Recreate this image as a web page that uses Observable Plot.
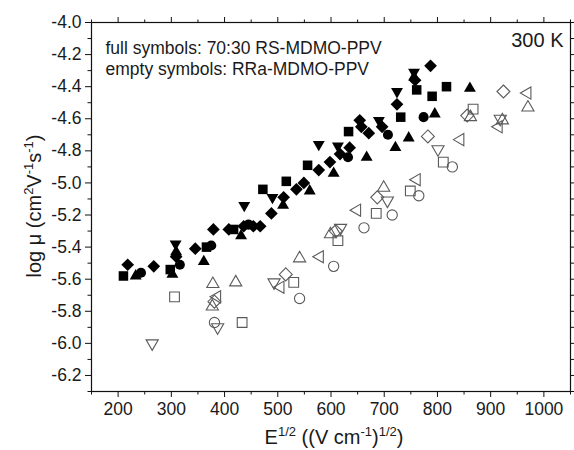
<!DOCTYPE html>
<html><head><meta charset="utf-8">
<script src="https://cdn.jsdelivr.net/npm/d3@7"></script>
<script src="https://cdn.jsdelivr.net/npm/@observablehq/plot@0.6"></script>
<style>html,body{margin:0;padding:0;background:#fff;overflow:hidden}</style>
</head><body><div id="chart"></div>
<script>
// ---- tick values ----
const xMajorTicks = [200, 300, 400, 500, 600, 700, 800, 900, 1000];
const xMinorTicks = [150, 250, 350, 450, 550, 650, 750, 850, 950, 1050];
const yMajorTicks = [-6.2, -6.0, -5.8, -5.6, -5.4, -5.2, -5.0, -4.8, -4.6, -4.4, -4.2, -4.0];
const yMinorTicks = [-6.3, -6.1, -5.9, -5.7, -5.5, -5.3, -5.1, -4.9, -4.7, -4.5, -4.3, -4.1];

// ---- texts ----
const noteFull = "full symbols: 70:30 RS-MDMO-PPV";
const noteEmpty = "empty symbols: RRa-MDMO-PPV";
const tempLabel = "300 K";

// ---- data: [E^1/2, log mu] ----
// full symbols (70:30 RS-MDMO-PPV)
const fullSquare = [[210,-5.58],[298,-5.54],[366,-5.40],[417,-5.29],[472,-5.04],[516,-4.99],[556,-4.89],[633,-4.68],[731,-4.59],[761,-4.42],[790,-4.46],[817,-4.40]];
const fullCircle = [[243,-5.56],[316,-5.51],[375,-5.39],[445,-5.26],[632,-4.84],[707,-4.70],[774,-4.59]];
const fullTriUp = [[233,-5.58],[302,-5.57],[309,-5.43],[361,-5.49],[431,-5.33],[510,-5.14],[560,-5.05],[605,-4.94],[667,-4.84],[721,-4.78],[746,-4.72],[795,-4.57],[861,-4.41],[756,-4.34]];
const fullTriDown = [[308,-5.38],[437,-5.14],[490,-5.09],[577,-4.76],[613,-4.77],[690,-4.61],[724,-4.43],[756,-4.31]];
const fullDiamond = [[218,-5.51],[267,-5.52],[309,-5.46],[345,-5.41],[379,-5.29],[408,-5.29],[436,-5.27],[454,-5.27],[467,-5.27],[488,-5.19],[511,-5.09],[535,-5.04],[549,-5.00],[577,-4.92],[598,-4.87],[617,-4.82],[635,-4.78],[654,-4.61],[657,-4.65],[671,-4.69],[696,-4.65],[724,-4.51],[758,-4.36],[787,-4.27]];
// empty symbols (RRa-MDMO-PPV)
const emptySquare = [[306,-5.71],[433,-5.87],[530,-5.62],[613,-5.36],[685,-5.19],[749,-5.05],[811,-4.87],[867,-4.54]];
const emptyCircle = [[381,-5.87],[541,-5.72],[605,-5.52],[662,-5.28],[715,-5.20],[765,-5.08],[828,-4.90]];
const emptyTriUp = [[378,-5.63],[377,-5.77],[421,-5.62],[541,-5.47],[599,-5.32],[699,-5.03],[862,-4.59],[922,-4.61],[970,-4.53]];
const emptyTriDown = [[264,-6.00],[387,-5.90],[493,-5.62],[618,-5.28],[706,-5.11],[801,-4.79],[918,-4.60]];
const emptyDiamond = [[381,-5.74],[515,-5.57],[609,-5.30],[687,-5.09],[782,-4.71],[856,-4.58],[924,-4.43]];
const emptyTriLeft = [[386,-5.71],[505,-5.65],[579,-5.46],[649,-5.17],[761,-4.98],[843,-4.73],[915,-4.65],[969,-4.44]];

// ---- symbols ----
const mk = fn => ({draw(ctx, size) { const r = Math.sqrt(size / Math.PI); fn(ctx, r); }});
const poly = (ctx, pts) => { ctx.moveTo(pts[0][0], pts[0][1]); for (let i = 1; i < pts.length; i++) ctx.lineTo(pts[i][0], pts[i][1]); ctx.closePath(); };
const symSquare = mk((c, r) => { const h = 0.9 * r; poly(c, [[-h,-h],[h,-h],[h,h],[-h,h]]); });
const symCircle = mk((c, r) => { const q = 0.95 * r; c.moveTo(q, 0); c.arc(0, 0, q, 0, 2 * Math.PI); });
const symDiamond = mk((c, r) => { const h = 1.2 * r; poly(c, [[0,-h],[h,0],[0,h],[-h,0]]); });
const symTriUp = mk((c, r) => { const R = 1.3 * r; poly(c, [[0,-R],[0.866*R,R/2],[-0.866*R,R/2]]); });
const symTriDown = mk((c, r) => { const R = 1.3 * r; poly(c, [[0,R],[0.866*R,-R/2],[-0.866*R,-R/2]]); });
const symTriLeft = mk((c, r) => { const R = 1.3 * r; poly(c, [[-R,0],[R/2,-0.866*R],[R/2,0.866*R]]); });

const X = d => d[0], Y = d => d[1];
const full = (data, symbol) => Plot.dot(data, {x: X, y: Y, symbol, r: 5.3, fill: "#000", stroke: "none"});
const empty = (data, symbol) => Plot.dot(data, {x: X, y: Y, symbol, r: 5.4, fill: "none", stroke: "#5a5a5a", strokeWidth: 1.1});

const FONT = "'Liberation Sans', Arial, Helvetica, sans-serif";
const tickStyle = {stroke: "#111", strokeWidth: 1, label: null};
const noText = {color: "none", fill: "none", stroke: "#111", strokeWidth: 1, label: null, tickFormat: () => ""};

const chart = Plot.plot({
  width: 574,
  height: 450,
  marginLeft: 91,
  marginRight: 4,
  marginTop: 22,
  marginBottom: 59,
  style: {fontFamily: FONT, color: "#1a1a1a", background: "#fff"},
  x: {domain: [150, 1050]},
  y: {domain: [-6.3, -4.0]},
  marks: [
    Plot.axisX(xMajorTicks, {...tickStyle, anchor: "bottom", tickSize: 6, tickPadding: 5, fontSize: 17.5, tickFormat: d => String(d), fill: "#1a1a1a"}),
    Plot.axisX(xMinorTicks, {...noText, anchor: "bottom", tickSize: 3.5}),
    Plot.axisX(xMajorTicks, {...noText, anchor: "top", tickSize: 6}),
    Plot.axisX(xMinorTicks, {...noText, anchor: "top", tickSize: 3.5}),
    Plot.axisY(yMajorTicks, {...tickStyle, anchor: "left", tickSize: 6, tickPadding: 4, fontSize: 17.5, tickFormat: d => d.toFixed(1), fill: "#1a1a1a"}),
    Plot.axisY(yMinorTicks, {...noText, anchor: "left", tickSize: 3.5}),
    Plot.axisY(yMajorTicks, {...noText, anchor: "right", tickSize: 6}),
    Plot.axisY(yMinorTicks, {...noText, anchor: "right", tickSize: 3.5}),
    Plot.frame({stroke: "#111", strokeWidth: 1.2}),
    empty(emptySquare, symSquare),
    empty(emptyCircle, symCircle),
    empty(emptyTriUp, symTriUp),
    empty(emptyTriDown, symTriDown),
    empty(emptyDiamond, symDiamond),
    empty(emptyTriLeft, symTriLeft),
    full(fullSquare, symSquare),
    full(fullCircle, symCircle),
    full(fullTriUp, symTriUp),
    full(fullTriDown, symTriDown),
    full(fullDiamond, symDiamond),
    Plot.text([noteFull], {text: d => d, frameAnchor: "top-left", dx: 14, dy: 31, textAnchor: "start", lineAnchor: "bottom", fontSize: 17.5, fill: "#1a1a1a"}),
    Plot.text([noteEmpty], {text: d => d, frameAnchor: "top-left", dx: 14, dy: 52, textAnchor: "start", lineAnchor: "bottom", fontSize: 17.5, fill: "#1a1a1a"}),
    Plot.text([tempLabel], {text: d => d, frameAnchor: "top-right", dx: -7, dy: 24, textAnchor: "end", lineAnchor: "bottom", fontSize: 20, fill: "#1a1a1a"})
  ]
});

document.getElementById("chart").appendChild(chart);

// axis titles with superscripts
const svg = d3.select(chart);
const sup = (t, s) => t.append("tspan").attr("font-size", 13).attr("dy", -8).text(s);
const base = (t, s) => t.append("tspan").attr("dy", 8).text(s);

const xt = svg.append("text").attr("x", 334).attr("y", 444).attr("text-anchor", "middle")
  .attr("font-size", 20).attr("fill", "#1a1a1a").attr("font-family", FONT);
xt.append("tspan").text("E");
sup(xt, "1/2"); base(xt, " ((V cm"); sup(xt, "-1"); base(xt, ")"); sup(xt, "1/2"); base(xt, ")");

const yt = svg.append("text").attr("transform", "translate(41,206) rotate(-90)").attr("text-anchor", "middle")
  .attr("font-size", 20).attr("fill", "#1a1a1a").attr("font-family", FONT);
yt.append("tspan").text("log μ (cm");
sup(yt, "2"); base(yt, "V"); sup(yt, "-1"); base(yt, "s"); sup(yt, "-1"); base(yt, ")");
</script>
</body></html>
